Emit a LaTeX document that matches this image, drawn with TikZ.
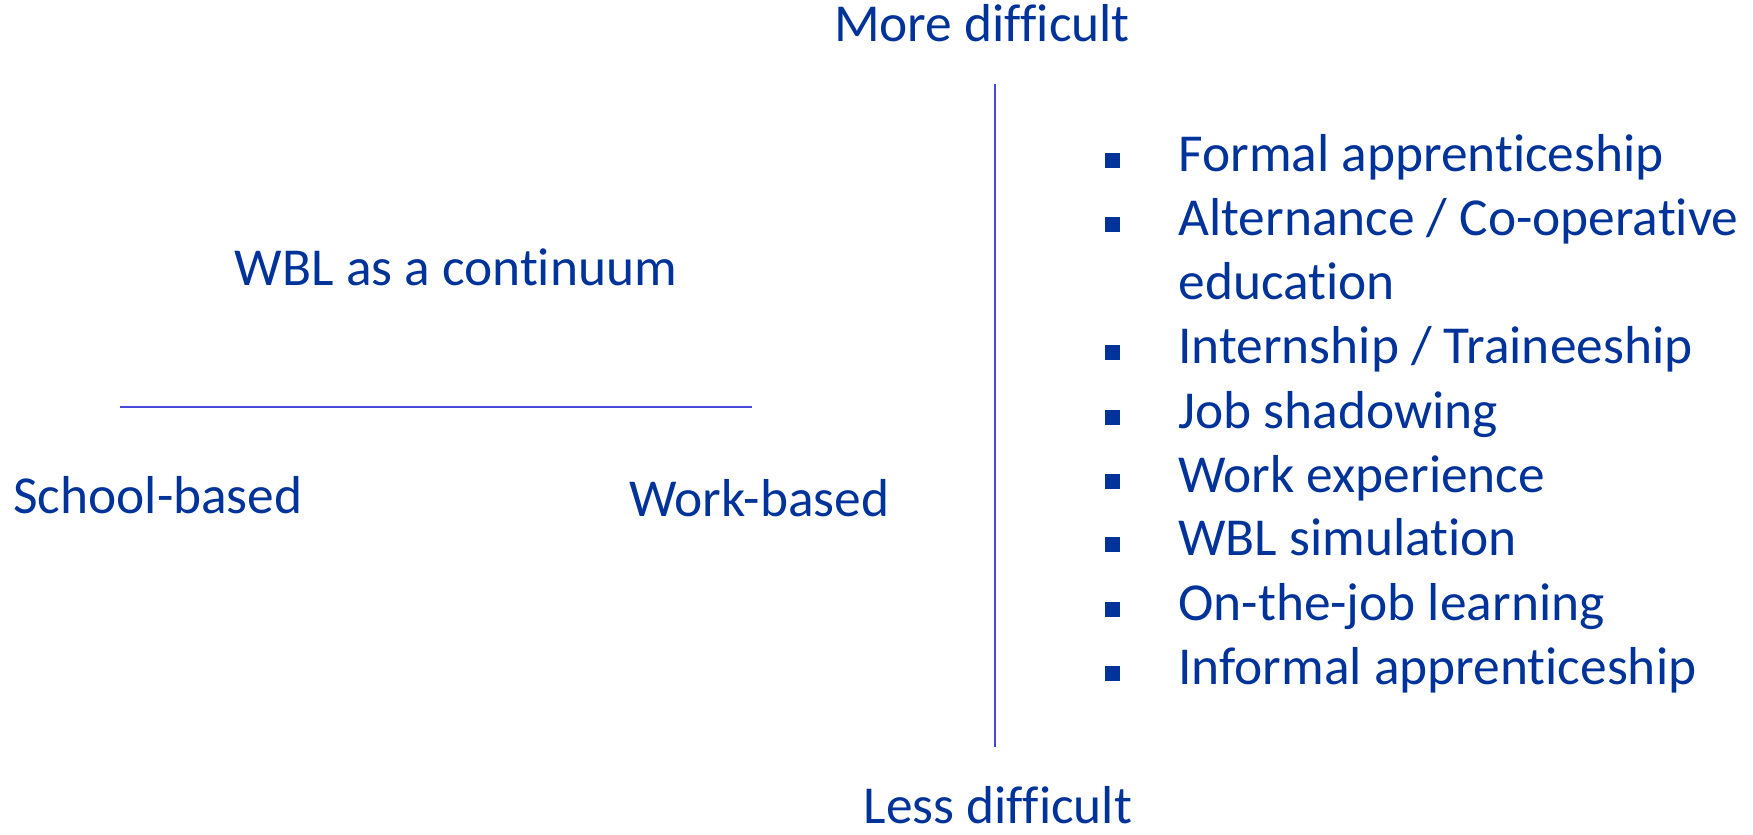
\documentclass[tikz,border=0pt]{standalone}
\usepackage{fontspec}
\setmainfont{Carlito}[Ligatures=CommonOff]
\usepackage{tikz}
\usetikzlibrary{positioning}
\definecolor{textblue}{RGB}{0,51,153}
\definecolor{lineblue}{RGB}{72,72,220}
\tikzset{
  label text/.style={text=textblue, font=\fontsize{26.7}{32}\selectfont, inner sep=0pt,
    text height=1.18em, text depth=0em},
  axis line/.style={draw=lineblue, line width=1pt},
  bullet box/.style={fill=textblue, minimum size=7.5pt, inner sep=0pt}
}

\begin{document}
\begin{tikzpicture}[x=0.5pt, y=-0.5pt]
            \useasboundingbox (0,0) rectangle (1753,835);
            % vertical axis
            \node[label text] (more) at (982, 30) {More difficult};
            \node[label text] (less) at (998, 812) {Less difficult};
            \coordinate (vtop) at (995, 84);
            \coordinate (vbot) at (995, 747);
            \draw[axis line] (vtop) -- (vbot);
            % horizontal axis
            \node[label text] (continuum) at (456, 274) {WBL as a continuum};
            \coordinate (hleft) at (120, 407);
            \coordinate (hright) at (752, 407);
            \draw[axis line] (hleft) -- (hright);
            \node[label text, anchor=west] (school) at (13, 502) {School-based};
            \node[label text, anchor=west] (work) at (629, 505) {Work-based};
            % list of forms
            \foreach \name/\y/\txt in {formal/160/{Formal apprenticeship},
                alter/224/{Alternance / Co-operative},
                intern/352/{Internship / Traineeship},
                shadow/417/{Job shadowing},
                experience/481/{Work experience},
                simul/544/{WBL simulation},
                onjob/609/{On-the-job learning},
                informal/673/{Informal apprenticeship}} {
              \node[bullet box] (b-\name) at (1112, \y) {};
              \node[label text, anchor=west] (\name) at (1178, \y) {\txt};
            }
            \node[label text, anchor=west] (educ) at (1178, 288) {education};
        \end{tikzpicture}
\end{document}
